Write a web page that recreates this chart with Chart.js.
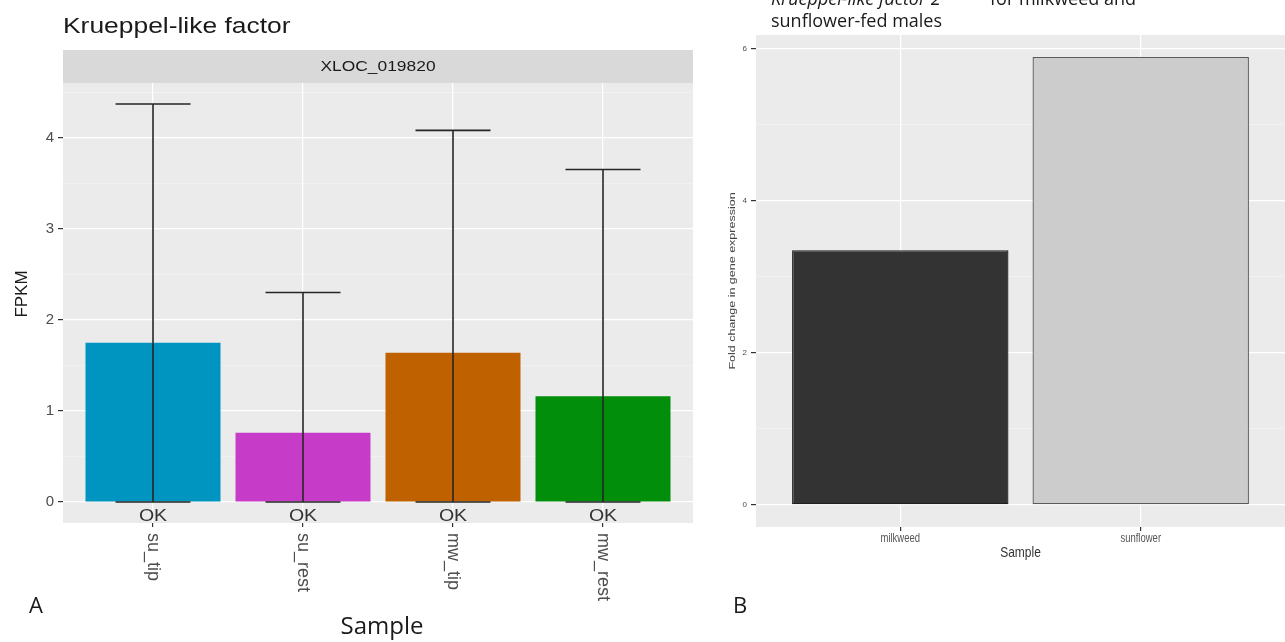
<!DOCTYPE html>
<html>
<head>
<meta charset="utf-8">
<script src="https://cdn.jsdelivr.net/npm/chart.js@4.4.1/dist/chart.umd.min.js"></script>
<style>
    body { margin: 0; background: #fff; width: 1285px; height: 642px; overflow: hidden; position: relative; }
    canvas { position: absolute; top: 0; }
    .lbl { position: absolute; white-space: nowrap; line-height: 1; color: #1a1a1a; }
    .word { font-family: "Open Sans", sans-serif; }
</style>
</head>
<body>
<canvas id="chartA" width="700" height="642" style="left:0"></canvas>
<canvas id="chartB" width="585" height="642" style="left:700px"></canvas>

<div class="lbl" style="left:63px;top:13px;font:22px 'Liberation Sans',Arial,sans-serif;transform:scaleX(1.2);transform-origin:left top;">Krueppel-like factor</div>
<div class="lbl word" style="left:29px;top:593px;font-size:22px;">A</div>
<div class="lbl word" style="left:382px;top:613px;font-size:24px;transform:translateX(-50%);">Sample</div>
<div class="lbl word" style="left:733px;top:593px;font-size:22px;">B</div>
<div class="lbl word" style="left:771px;top:-11px;font-size:18px;font-style:italic;">Krueppel-like factor 2</div>
<div class="lbl word" style="left:990px;top:-11px;font-size:18px;">for milkweed and</div>
<div class="lbl word" style="left:771px;top:11px;font-size:18px;">sunflower-fed males</div>

<script>
// panel A: FPKM per sample, with confidence bounds
const samplesA = ['su_tip', 'su_rest', 'mw_tip', 'mw_rest'];
const fpkmA = [1.75, 0.76, 1.64, 1.16];
const fpkmLowA = [0, 0, 0, 0];
const fpkmHighA = [4.37, 2.30, 4.08, 3.65];
const statusA = ['OK', 'OK', 'OK', 'OK'];
const colorsA = ['#0094C0', '#C63CC8', '#C06100', '#008E0B'];
const yTicksA = [0, 1, 2, 3, 4];
const yMinorA = [0.5, 1.5, 2.5, 3.5, 4.5];

// panel B: fold change
const samplesB = ['milkweed', 'sunflower'];
const foldB = [3.35, 5.89];
const colorsB = ['#333333', '#CCCCCC'];
const bordersB = ['#1f1f1f', '#5a5a5a'];
const yTicksB = [0, 2, 4, 6];
const yMinorB = [1, 3, 5];

const FONT = "'Liberation Sans', Arial, sans-serif";

function stretchText(ctx, text, x, y, sx, sy) {
    ctx.save();
    ctx.translate(x, y);
    ctx.scale(sx, sy);
    ctx.fillText(text, 0, 0);
    ctx.restore();
}

const panelBg = {
    id: 'panelBg',
    beforeDraw(chart) {
        const a = chart.chartArea;
        const ctx = chart.ctx;
        ctx.save();
        ctx.fillStyle = '#EBEBEB';
        ctx.fillRect(a.left, a.top, a.right - a.left, a.bottom - a.top);
        ctx.restore();
    }
};

const extrasA = {
    id: 'extrasA',
    afterDatasetsDraw(chart) {
        const { ctx, chartArea, scales: { x, y } } = chart;
        const half = x.getPixelForValue(1.25) - x.getPixelForValue(1);

        // error bars
        ctx.save();
        ctx.strokeStyle = '#262626';
        ctx.lineWidth = 1.6;
        samplesA.forEach((s, i) => {
            const px = x.getPixelForValue(i + 1);
            const top = y.getPixelForValue(fpkmHighA[i]);
            const bot = y.getPixelForValue(fpkmLowA[i]);
            ctx.beginPath();
            ctx.moveTo(px, top); ctx.lineTo(px, bot);
            ctx.moveTo(px - half, top); ctx.lineTo(px + half, top);
            ctx.moveTo(px - half, bot); ctx.lineTo(px + half, bot);
            ctx.stroke();
        });

        // status labels under the bars
        ctx.fillStyle = '#333';
        ctx.font = '17px ' + FONT;
        ctx.textAlign = 'center';
        ctx.textBaseline = 'middle';
        samplesA.forEach((s, i) => {
            stretchText(ctx, statusA[i], x.getPixelForValue(i + 1), y.getPixelForValue(0) + 14, 1.15, 1);
        });

        // facet strip
        ctx.fillStyle = '#D9D9D9';
        ctx.fillRect(chartArea.left, chartArea.top - 33, chartArea.right - chartArea.left, 33);
        ctx.fillStyle = '#1a1a1a';
        ctx.font = '14.5px ' + FONT;
        stretchText(ctx, 'XLOC_019820', (chartArea.left + chartArea.right) / 2, chartArea.top - 16, 1.2, 1);

        // x tick labels, rotated clockwise
        ctx.fillStyle = '#4d4d4d';
        ctx.font = '18px ' + FONT;
        ctx.textAlign = 'left';
        samplesA.forEach((s, i) => {
            ctx.save();
            ctx.translate(x.getPixelForValue(i + 1), chartArea.bottom + 10);
            ctx.rotate(Math.PI / 2);
            ctx.fillText(s, 0, 0);
            ctx.restore();
        });

        // y axis title
        ctx.fillStyle = '#1a1a1a';
        ctx.font = '17px ' + FONT;
        ctx.textAlign = 'center';
        ctx.save();
        ctx.translate(22, 294);
        ctx.rotate(-Math.PI / 2);
        ctx.fillText('FPKM', 0, 0);
        ctx.restore();
        ctx.restore();
    }
};

const extrasB = {
    id: 'extrasB',
    afterDraw(chart) {
        const { ctx, chartArea, scales: { x } } = chart;
        ctx.save();
        ctx.fillStyle = '#444';
        ctx.font = '12.5px ' + FONT;
        ctx.textAlign = 'center';
        ctx.textBaseline = 'middle';
        ctx.save();
        ctx.translate(33, (chartArea.top + chartArea.bottom) / 2);
        ctx.scale(0.7, 1);
        ctx.rotate(-Math.PI / 2);
        ctx.fillText('Fold change in gene expression', 0, 0);
        ctx.restore();

        // x tick labels
        ctx.fillStyle = '#555';
        ctx.font = '9.5px ' + FONT;
        samplesB.forEach((s, i) => {
            stretchText(ctx, s, x.getPixelForValue(i + 1), chartArea.bottom + 12, 1, 1.3);
        });

        ctx.fillStyle = '#333';
        ctx.font = '12px ' + FONT;
        stretchText(ctx, 'Sample', (chartArea.left + chartArea.right) / 2, 553, 1, 1.2);
        ctx.restore();
    }
};

function isIn(list, v) {
    return list.some(t => Math.abs(t - v) < 1e-9);
}

function xScale(cats) {
    return {
        type: 'linear',
        min: 0.4,
        max: cats.length + 0.6,
        bounds: 'data',
        offset: false,
        afterBuildTicks: s => { s.ticks = cats.map((c, i) => ({ value: i + 1 })); },
        afterFit: s => { s.height = 4; },
        border: { display: false },
        grid: { offset: false, color: '#FFFFFF', lineWidth: 1.2, tickColor: '#333333', tickLength: 4 },
        ticks: { display: false }
    };
}

function yScale(min, max, majors, minors, fontSize, width) {
    return {
        type: 'linear',
        min: min,
        max: max,
        bounds: 'data',
        afterBuildTicks: s => {
            s.ticks = majors.concat(minors).sort((a, b) => a - b).map(v => ({ value: v }));
        },
        afterFit: s => { s.width = width; },
        border: { display: false },
        grid: {
            color: c => isIn(majors, c.tick.value) ? '#FFFFFF' : 'rgba(255,255,255,0.55)',
            lineWidth: c => isIn(majors, c.tick.value) ? 1.2 : 0.6,
            tickColor: c => isIn(majors, c.tick.value) ? '#333333' : 'rgba(0,0,0,0)',
            tickLength: 5
        },
        ticks: {
            autoSkip: false,
            padding: 4,
            color: '#4d4d4d',
            font: { family: FONT, size: fontSize },
            callback: v => isIn(majors, v) ? String(v) : ''
        }
    };
}

new Chart(document.getElementById('chartA'), {
    type: 'bar',
    data: {
        datasets: [{
            data: fpkmA.map((v, i) => ({ x: i + 1, y: v })),
            backgroundColor: colorsA,
            borderWidth: 0,
            barPercentage: 0.9,
            categoryPercentage: 1.0
        }]
    },
    options: {
        responsive: false,
        animation: false,
        devicePixelRatio: 1,
        layout: { padding: { left: 0, right: 7, top: 83, bottom: 115 } },
        plugins: { legend: { display: false }, tooltip: { enabled: false } },
        scales: {
            x: xScale(samplesA),
            y: yScale(-0.23, 4.6, yTicksA, yMinorA, 15, 63)
        }
    },
    plugins: [panelBg, extrasA]
});

new Chart(document.getElementById('chartB'), {
    type: 'bar',
    data: {
        datasets: [{
            data: foldB.map((v, i) => ({ x: i + 1, y: v })),
            backgroundColor: colorsB,
            borderColor: bordersB,
            borderWidth: 1.3,
            borderSkipped: false,
            barPercentage: 0.9,
            categoryPercentage: 1.0
        }]
    },
    options: {
        responsive: false,
        animation: false,
        devicePixelRatio: 1,
        layout: { padding: { left: 0, right: 0, top: 35, bottom: 111 } },
        plugins: { legend: { display: false }, tooltip: { enabled: false } },
        scales: {
            x: xScale(samplesB),
            y: yScale(-0.29, 6.18, yTicksB, yMinorB, 8, 56)
        }
    },
    plugins: [panelBg, extrasB]
});
</script>
</body>
</html>
